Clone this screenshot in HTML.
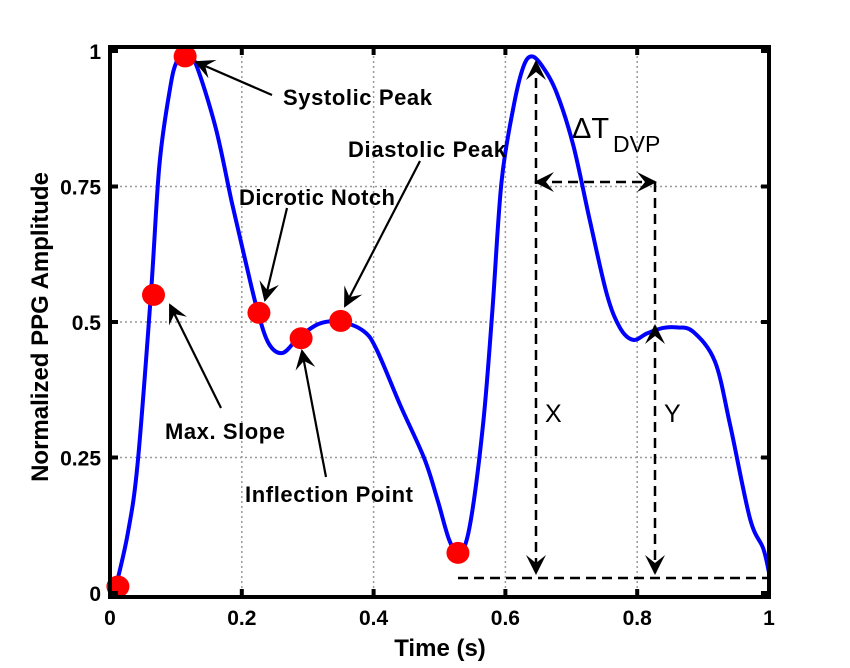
<!DOCTYPE html>
<html><head><meta charset="utf-8"><style>
body{margin:0;background:#fff}
svg{display:block;font-family:"Liberation Sans",Arial,sans-serif}
</style></head><body>
<svg id="chart" width="850" height="668" viewBox="0 0 850 668">
<defs>
<marker id="ah2" viewBox="0 0 10 10" refX="9" refY="5" markerWidth="20" markerHeight="20" orient="auto-start-reverse" markerUnits="userSpaceOnUse">
<path d="M0,0 L10,5 L0,10 L4,5 z" fill="#000"/></marker>
</defs>
<g id="grid"></g>
<g id="series"></g>
<g id="ann"></g>
<g id="axes"></g>
</svg>
<script>
const curveT=[0.009,0.027,0.042,0.062,0.075,0.091,0.101,0.114,0.129,0.16,0.185,0.206,0.224,0.241,0.262,0.287,0.318,0.351,0.385,0.405,0.441,0.477,0.497,0.515,0.53,0.546,0.566,0.58,0.594,0.612,0.627,0.64,0.657,0.678,0.703,0.728,0.754,0.774,0.794,0.815,0.839,0.86,0.885,0.918,0.941,0.971,0.991,1.0];
const curveV=[0.012,0.11,0.24,0.55,0.79,0.93,0.98,0.995,0.98,0.86,0.72,0.61,0.52,0.46,0.443,0.472,0.497,0.5,0.483,0.448,0.345,0.248,0.172,0.097,0.072,0.124,0.31,0.517,0.757,0.895,0.97,0.99,0.97,0.922,0.826,0.688,0.551,0.489,0.467,0.479,0.489,0.49,0.482,0.427,0.31,0.138,0.083,0.038];
const markT=[0.012,0.066,0.114,0.226,0.29,0.35,0.528];
const markV=[0.012,0.55,0.99,0.517,0.47,0.502,0.074];
const xTicks=[0,0.2,0.4,0.6,0.8,1];
const yTicks=[0,0.25,0.5,0.75,1];
const xTickLabels=["0","0.2","0.4","0.6","0.8","1"];
const yTickLabels=["0","0.25","0.5","0.75","1"];

const X0=110,X1=769,Y0=593,Y1=51;
const sx=t=>X0+(X1-X0)*t, sy=v=>Y0-(Y0-Y1)*v;
const NS="http://www.w3.org/2000/svg";
function mk(tag,attrs,parent,text){const e=document.createElementNS(NS,tag);for(const k in attrs)e.setAttribute(k,attrs[k]);if(text!==undefined)e.textContent=text;parent.appendChild(e);return e;}
const grid=document.getElementById('grid'),series=document.getElementById('series'),ann=document.getElementById('ann'),axes=document.getElementById('axes');

xTicks.forEach((t,i)=>{if(i>0&&i<xTicks.length-1){const l=mk('line',{x1:sx(t),x2:sx(t),y1:Y1,y2:Y0,stroke:'#999','stroke-width':1.5,'stroke-dasharray':'2,3'},grid);

}});
yTicks.forEach((v,i)=>{if(i>0&&i<yTicks.length-1){const l=mk('line',{x1:X0,x2:X1,y1:sy(v),y2:sy(v),stroke:'#999','stroke-width':1.5,'stroke-dasharray':'2,3'},grid);

}});

const pts=curveT.map((t,i)=>[sx(t),sy(curveV[i])]);
let d='M'+pts[0][0]+','+pts[0][1];
for(let i=0;i<pts.length-1;i++){const p0=pts[Math.max(i-1,0)],p1=pts[i],p2=pts[i+1],p3=pts[Math.min(i+2,pts.length-1)];
d+=' C'+(p1[0]+(p2[0]-p0[0])/6)+','+(p1[1]+(p2[1]-p0[1])/6)+' '+(p2[0]-(p3[0]-p1[0])/6)+','+(p2[1]-(p3[1]-p1[1])/6)+' '+p2[0]+','+p2[1];}
const cp=mk('path',{d:d,fill:'none',stroke:'#0000ff','stroke-width':4,'stroke-linejoin':'round'},series);



const bottomY=578;
function dl(x1,y1,x2,y2,s,e,name){const l=mk('line',{x1,y1,x2,y2,stroke:'#000','stroke-width':2.5,'stroke-dasharray':'10,6'},ann);
if(s)l.setAttribute('marker-start','url(#ah2)');if(e)l.setAttribute('marker-end','url(#ah2)');

}
dl(458,bottomY,770,bottomY,false,false,'baseline-dashed');
dl(536,62,536,573,true,true,'x-measure-arrow');
dl(655,182,655,573,false,true,'y-measure-lower');
dl(655,326,655,330,true,false,'y-measure-upper');
dl(536,182,655,182,true,true,'delta-t-arrow');

function arr(x1,y1,x2,y2,name){const l=mk('line',{x1,y1,x2,y2,stroke:'#000','stroke-width':2.2,'marker-end':'url(#ah2)'},ann);

}
arr(272,95,196,62,'systolic-arrow');
arr(420,161,345,306,'diastolic-arrow');
arr(287,208,265,300,'dicrotic-arrow');
arr(221,408,170,305,'max-slope-arrow');
arr(326,477,302,351,'inflection-arrow');

markT.forEach((t,i)=>{const c=mk('ellipse',{cx:sx(t),cy:sy(markV[i]),rx:11.5,ry:11,fill:'#ff0000'},series);

});

function tx(x,y,s,name,attrs){const e=mk('text',Object.assign({x,y,'font-size':22,'font-weight':'bold',fill:'#000'},attrs||{}),ann,s);

return e;}
tx(283,105,'Systolic Peak','systolic-label',{textLength:149});
tx(348,157,'Diastolic Peak','diastolic-label',{textLength:158});
tx(239,205,'Dicrotic Notch','dicrotic-label',{textLength:156});
tx(165,439,'Max. Slope','max-slope-label',{textLength:120});
tx(245,502,'Inflection Point','inflection-label',{textLength:168});
tx(545,422,'X','x-label',{'font-weight':'normal','font-size':25});
tx(664,422,'Y','y-label',{'font-weight':'normal','font-size':25});
tx(572,138,'ΔT','delta-t-label',{'font-weight':'normal','font-size':29});
tx(613,152,'DVP','dvp-subscript',{'font-weight':'normal','font-size':23});

const box=mk('rect',{x:X0,y:Y1-4,width:X1-X0,height:Y0-Y1+8,fill:'none',stroke:'#000','stroke-width':4},axes);


xTicks.forEach((t,i)=>{
 mk('line',{x1:sx(t),x2:sx(t),y1:Y0+4,y2:Y0-4,stroke:'#000','stroke-width':4},axes);
 mk('line',{x1:sx(t),x2:sx(t),y1:Y1-4,y2:Y1+4,stroke:'#000','stroke-width':4},axes);
 const e=mk('text',{x:sx(t),y:Y0+32,'text-anchor':'middle','font-size':21,'font-weight':'bold'},axes,xTickLabels[i]);
 
 });
yTicks.forEach((v,i)=>{
 mk('line',{x1:X0,x2:X0+8,y1:sy(v),y2:sy(v),stroke:'#000','stroke-width':4},axes);
 mk('line',{x1:X1-8,x2:X1,y1:sy(v),y2:sy(v),stroke:'#000','stroke-width':4},axes);
 const e=mk('text',{x:X0-9,y:sy(v)+8,'text-anchor':'end','font-size':21,'font-weight':'bold'},axes,yTickLabels[i]);
 
 });
const xt=mk('text',{x:440,y:656,'text-anchor':'middle','font-size':24,'font-weight':'bold'},axes,'Time (s)');


const yt=mk('text',{x:0,y:0,'text-anchor':'middle','font-size':24,'font-weight':'bold',transform:'translate(48,327) rotate(-90)'},axes,'Normalized PPG Amplitude');


</script>
</body></html>
